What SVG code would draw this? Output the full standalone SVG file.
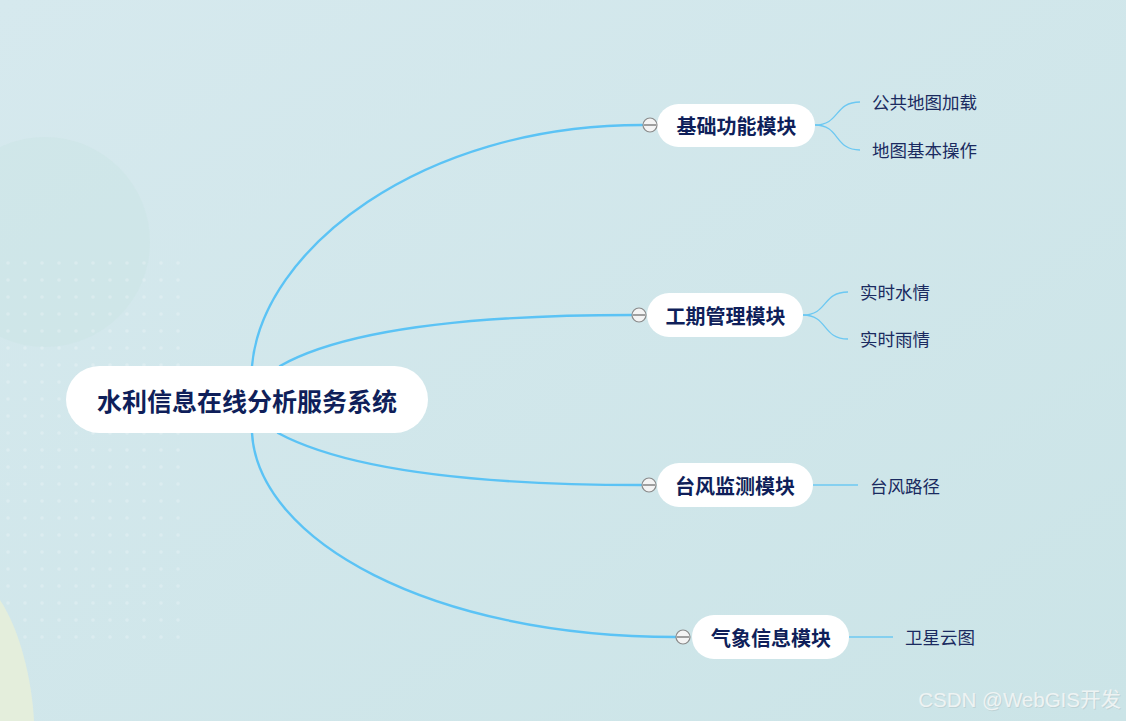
<svg xmlns="http://www.w3.org/2000/svg" width="1126" height="721" viewBox="0 0 1126 721">
<defs>
<linearGradient id="bg" x1="0" y1="0" x2="1" y2="1">
<stop offset="0" stop-color="#d6e9ee"/>
<stop offset="1" stop-color="#cbe4e7"/>
</linearGradient>
<pattern id="dots" width="17" height="17" patternUnits="userSpaceOnUse">
<circle cx="8" cy="8" r="1.8" fill="#ffffff" fill-opacity="0.22"/>
</pattern>
<style>
.main{fill:none;stroke:#5bc3f5;stroke-width:2.4;stroke-linecap:round}
.sub{fill:none;stroke:#6cc8f2;stroke-width:1.3}
.pill{fill:#ffffff}
.root{font-family:"Noto Sans CJK SC",sans-serif;font-weight:700;font-size:25px;fill:#0f1f5a}
.title{font-family:"Noto Sans CJK SC",sans-serif;font-weight:700;font-size:20px;fill:#0f1f5a}
.leaf{font-family:"Noto Sans CJK SC",sans-serif;font-size:17.5px;fill:#1a2a60}
.tog{fill:#f4f4f4;stroke:#8a8a8a;stroke-width:1.2}
.togl{stroke:#8a8a8a;stroke-width:1.6}
</style>
</defs>
<rect width="1126" height="721" fill="url(#bg)"/>
<circle cx="45" cy="242" r="105" fill="#cde6e7" fill-opacity="0.7"/>
<rect x="0" y="255" width="185" height="395" fill="url(#dots)"/>
<path d="M0,600 C20,630 32,680 34,721 L0,721 Z" fill="#e4eedc"/>

<g id="connectors">
<path class="main" d="M252,366 C262,250 420,125 642,125"/>
<path class="main" d="M280,366 C335,335 445,315 632,315"/>
<path class="main" d="M278,433 C332,462 440,485 641,485"/>
<path class="main" d="M252,433 C258,540 430,637 676,637"/>
<path class="sub" d="M815,125 C840,125 834,102 860,102"/>
<path class="sub" d="M815,125 C840,125 834,150 860,150"/>
<path class="sub" d="M803,315 C828,315 822,292 848,292"/>
<path class="sub" d="M803,315 C828,315 822,339 848,339"/>
<path class="sub" d="M813,485 L858,485"/>
<path class="sub" d="M849,637 L893,637"/>
</g>

<g id="root">
<rect class="pill" x="66" y="366" width="362" height="67" rx="33.5"/>
<text class="root" x="247" y="399.5" text-anchor="middle" dominant-baseline="central">水利信息在线分析服务系统</text>
</g>

<g id="node1">
<rect class="pill" x="657" y="104" width="158" height="43" rx="21.5"/>
<text class="title" x="736.5" y="125.5" text-anchor="middle" dominant-baseline="central">基础功能模块</text>
<circle class="tog" cx="650" cy="125" r="7"/>
<line class="togl" x1="644" y1="125" x2="656" y2="125"/>
</g>
<g id="leaf1a"><text class="leaf" x="872" y="101.5" dominant-baseline="central">公共地图加载</text></g>
<g id="leaf1b"><text class="leaf" x="872" y="149.5" dominant-baseline="central">地图基本操作</text></g>

<g id="node2">
<rect class="pill" x="647" y="293" width="156" height="44" rx="22"/>
<text class="title" x="725.5" y="315.5" text-anchor="middle" dominant-baseline="central">工期管理模块</text>
<circle class="tog" cx="639" cy="315" r="7"/>
<line class="togl" x1="633" y1="315" x2="645" y2="315"/>
</g>
<g id="leaf2a"><text class="leaf" x="860" y="291.5" dominant-baseline="central">实时水情</text></g>
<g id="leaf2b"><text class="leaf" x="860" y="338.5" dominant-baseline="central">实时雨情</text></g>

<g id="node3">
<rect class="pill" x="657" y="463" width="156" height="44" rx="22"/>
<text class="title" x="735" y="485.5" text-anchor="middle" dominant-baseline="central">台风监测模块</text>
<circle class="tog" cx="649" cy="485" r="7"/>
<line class="togl" x1="643" y1="485" x2="655" y2="485"/>
</g>
<g id="leaf3a"><text class="leaf" x="870" y="485.5" dominant-baseline="central">台风路径</text></g>

<g id="node4">
<rect class="pill" x="692" y="615" width="157" height="44" rx="22"/>
<text class="title" x="771" y="637.5" text-anchor="middle" dominant-baseline="central">气象信息模块</text>
<circle class="tog" cx="683" cy="637" r="7"/>
<line class="togl" x1="677" y1="637" x2="689" y2="637"/>
</g>
<g id="leaf4a"><text class="leaf" x="905" y="636.5" dominant-baseline="central">卫星云图</text></g>

<text x="1122" y="708" text-anchor="end" font-family="'Liberation Sans','Noto Sans CJK SC',sans-serif" font-size="20.5" fill="#a9b4b6" fill-opacity="0.35">CSDN @WebGIS开发</text>
<text x="1121" y="707" text-anchor="end" font-family="'Liberation Sans','Noto Sans CJK SC',sans-serif" font-size="20.5" fill="#eef3f3">CSDN @WebGIS开发</text>
</svg>
